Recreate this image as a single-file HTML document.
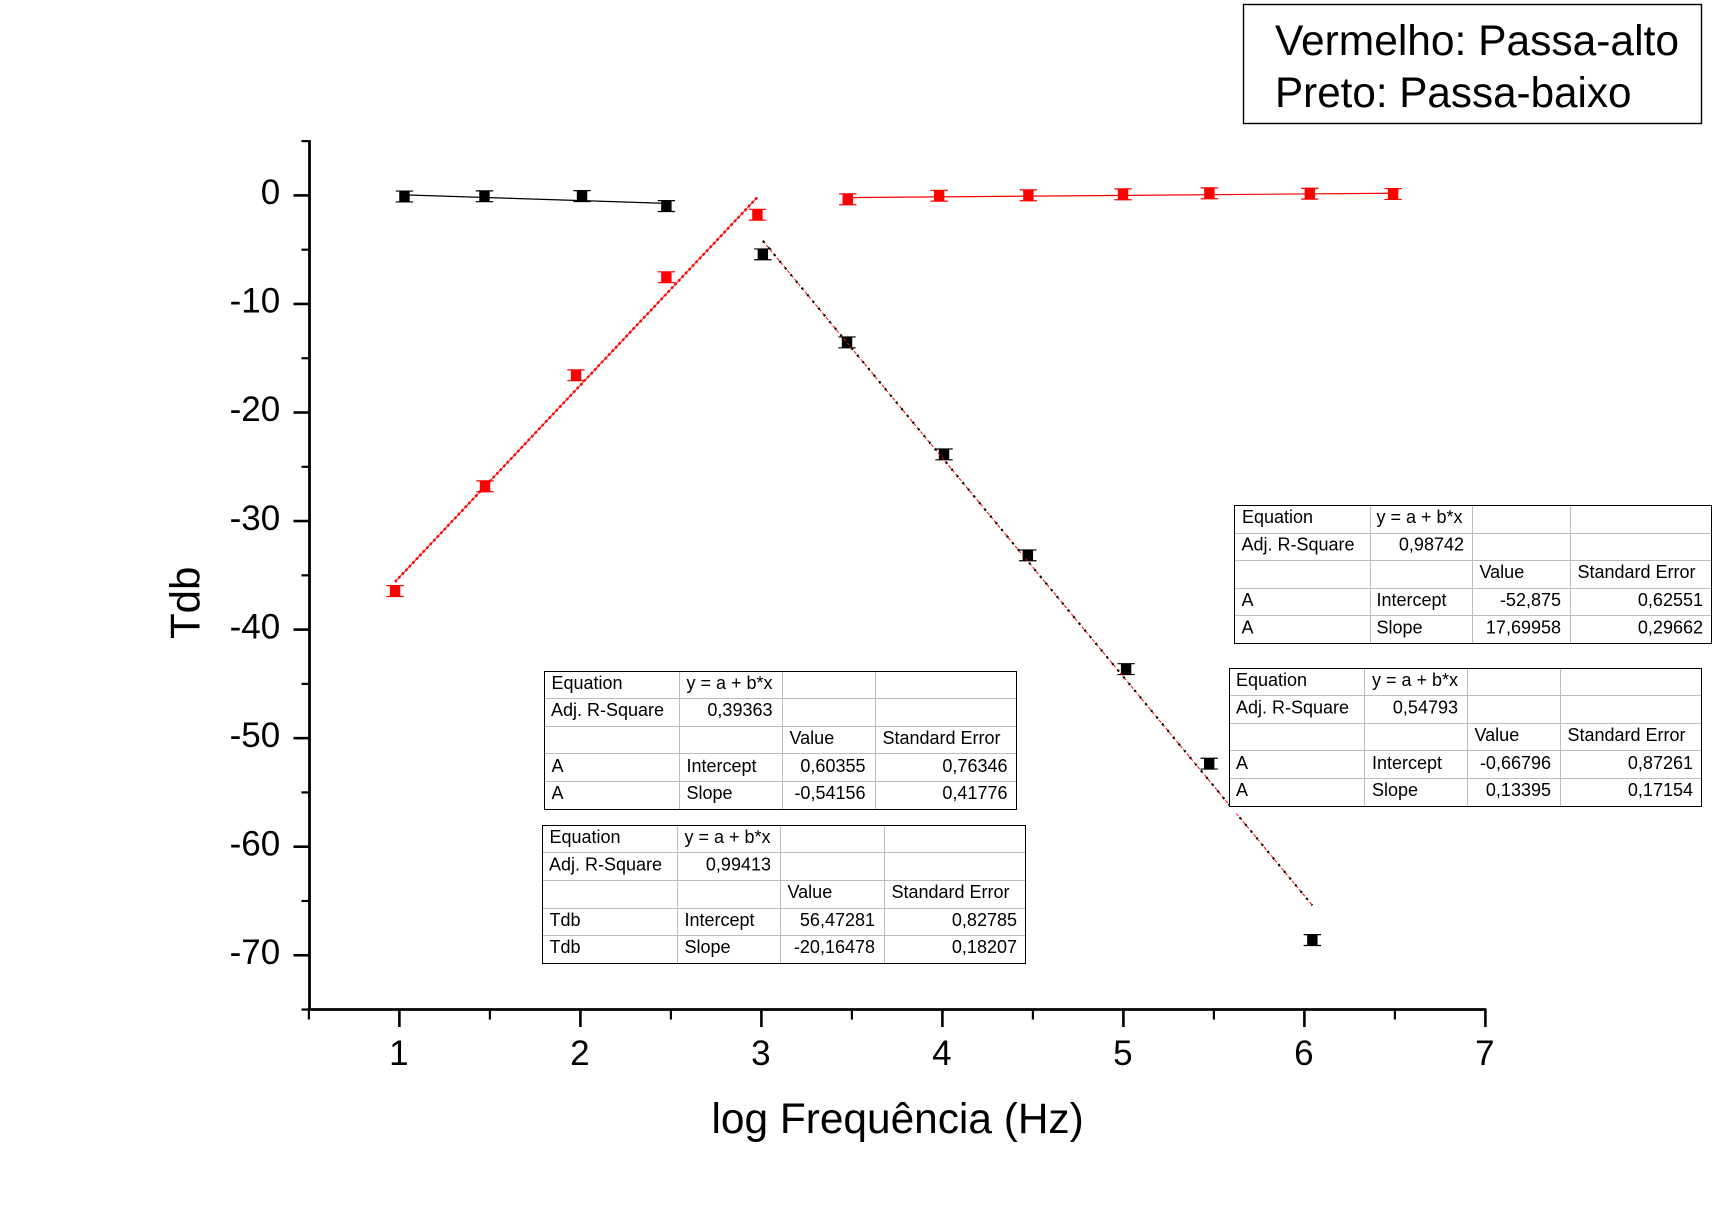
<!DOCTYPE html>
<html lang="pt">
<head>
<meta charset="utf-8">
<title>Tdb vs log Frequência</title>
<style>
html,body{margin:0;padding:0;background:#fff;}
svg{display:block;font-family:"Liberation Sans",Arial,sans-serif;}
.t{font-size:18px;fill:#000;}
.r{text-anchor:end;}
.grid line{stroke:#bdbdbd;stroke-width:1;shape-rendering:crispEdges;}
.box{fill:none;stroke:#000;stroke-width:1;shape-rendering:crispEdges;}
.mask{fill:#fff;stroke:none;}
</style>
</head>
<body>
<svg id="chart" xmlns="http://www.w3.org/2000/svg" width="1725" height="1209" viewBox="0 0 1725 1209">
  <rect width="1725" height="1209" fill="#fff"/>
  <g id="plot"></g>

  <text x="0" y="0" transform="translate(199.5 639) rotate(-90)" font-size="42" fill="#000">Tdb</text>
  <text x="711.5" y="1133" font-size="42.4" fill="#000">log Frequência (Hz)</text>

  <g>
    <rect x="1243.5" y="4.5" width="458" height="119" fill="#fff" stroke="#000" stroke-width="1.4"/>
    <text x="1275" y="55" font-size="42.5" fill="#000">Vermelho: Passa-alto</text>
    <text x="1275" y="107" font-size="42.2" fill="#000">Preto: Passa-baixo</text>
  </g>

  <!-- Fit table: black low-frequency series -->
  <g transform="translate(544.5 671.5)">
    <rect class="mask" x="0" y="0" width="472" height="145"/>
    <g class="grid">
      <line x1="135" y1="0" x2="135" y2="138"/><line x1="238" y1="0" x2="238" y2="138"/><line x1="331" y1="0" x2="331" y2="138"/>
      <line x1="0" y1="27" x2="472" y2="27"/><line x1="0" y1="55" x2="472" y2="55"/><line x1="0" y1="82" x2="472" y2="82"/><line x1="0" y1="110" x2="472" y2="110"/>
    </g>
    <rect class="box" x="0" y="0" width="472" height="138"/>
    <text class="t" x="7" y="17.5">Equation</text>
    <text class="t" x="142" y="17.5">y = a + b*x</text>
    <text class="t" x="6.5" y="44.5">Adj. R-Square</text>
    <text class="t r" x="228" y="44.5">0,39363</text>
    <text class="t" x="245" y="72.5">Value</text>
    <text class="t" x="338" y="72.5">Standard Error</text>
    <text class="t" x="7" y="100.5">A</text>
    <text class="t" x="142" y="100.5">Intercept</text>
    <text class="t r" x="321" y="100.5">0,60355</text>
    <text class="t r" x="463" y="100.5">0,76346</text>
    <text class="t" x="7" y="127.5">A</text>
    <text class="t" x="142" y="127.5">Slope</text>
    <text class="t r" x="321" y="127.5">-0,54156</text>
    <text class="t r" x="463" y="127.5">0,41776</text>
  </g>

  <!-- Fit table: black falling series -->
  <g transform="translate(542.5 825.5)">
    <rect class="mask" x="0" y="0" width="483" height="145"/>
    <g class="grid">
      <line x1="135" y1="0" x2="135" y2="138"/><line x1="238" y1="0" x2="238" y2="138"/><line x1="342" y1="0" x2="342" y2="138"/>
      <line x1="0" y1="27" x2="483" y2="27"/><line x1="0" y1="55" x2="483" y2="55"/><line x1="0" y1="83" x2="483" y2="83"/><line x1="0" y1="110" x2="483" y2="110"/>
    </g>
    <rect class="box" x="0" y="0" width="483" height="138"/>
    <text class="t" x="7" y="17.5">Equation</text>
    <text class="t" x="142" y="17.5">y = a + b*x</text>
    <text class="t" x="6.5" y="45">Adj. R-Square</text>
    <text class="t r" x="228.5" y="45">0,99413</text>
    <text class="t" x="245" y="72.5">Value</text>
    <text class="t" x="349" y="72.5">Standard Error</text>
    <text class="t" x="7" y="100.5">Tdb</text>
    <text class="t" x="142" y="100.5">Intercept</text>
    <text class="t r" x="332.5" y="100.5">56,47281</text>
    <text class="t r" x="474.5" y="100.5">0,82785</text>
    <text class="t" x="7" y="127.5">Tdb</text>
    <text class="t" x="142" y="127.5">Slope</text>
    <text class="t r" x="332.5" y="127.5">-20,16478</text>
    <text class="t r" x="474.5" y="127.5">0,18207</text>
  </g>

  <!-- Fit table: red rising series -->
  <g transform="translate(1234.5 505.5)">
    <rect class="mask" x="0" y="0" width="477" height="145"/>
    <g class="grid">
      <line x1="136" y1="0" x2="136" y2="138"/><line x1="238" y1="0" x2="238" y2="138"/><line x1="336" y1="0" x2="336" y2="138"/>
      <line x1="0" y1="28" x2="477" y2="28"/><line x1="0" y1="55" x2="477" y2="55"/><line x1="0" y1="83" x2="477" y2="83"/><line x1="0" y1="110" x2="477" y2="110"/>
    </g>
    <rect class="box" x="0" y="0" width="477" height="138"/>
    <text class="t" x="7.5" y="17.5">Equation</text>
    <text class="t" x="142" y="17.5">y = a + b*x</text>
    <text class="t" x="7" y="45">Adj. R-Square</text>
    <text class="t r" x="229.5" y="45">0,98742</text>
    <text class="t" x="245" y="72.5">Value</text>
    <text class="t" x="343" y="72.5">Standard Error</text>
    <text class="t" x="7" y="100.5">A</text>
    <text class="t" x="142" y="100.5">Intercept</text>
    <text class="t r" x="326.5" y="100.5">-52,875</text>
    <text class="t r" x="468.5" y="100.5">0,62551</text>
    <text class="t" x="7" y="128">A</text>
    <text class="t" x="142" y="128">Slope</text>
    <text class="t r" x="326.5" y="128">17,69958</text>
    <text class="t r" x="468.5" y="128">0,29662</text>
  </g>

  <!-- Fit table: red flat series -->
  <g transform="translate(1229.5 668.5)">
    <rect class="mask" x="0" y="0" width="472" height="145"/>
    <g class="grid">
      <line x1="135" y1="0" x2="135" y2="138"/><line x1="238" y1="0" x2="238" y2="138"/><line x1="331" y1="0" x2="331" y2="138"/>
      <line x1="0" y1="27" x2="472" y2="27"/><line x1="0" y1="55" x2="472" y2="55"/><line x1="0" y1="82" x2="472" y2="82"/><line x1="0" y1="110" x2="472" y2="110"/>
    </g>
    <rect class="box" x="0" y="0" width="472" height="138"/>
    <text class="t" x="6.5" y="17.5">Equation</text>
    <text class="t" x="142.5" y="17.5">y = a + b*x</text>
    <text class="t" x="6.5" y="45">Adj. R-Square</text>
    <text class="t r" x="228.5" y="45">0,54793</text>
    <text class="t" x="245" y="72.5">Value</text>
    <text class="t" x="338" y="72.5">Standard Error</text>
    <text class="t" x="6.5" y="100.5">A</text>
    <text class="t" x="142.5" y="100.5">Intercept</text>
    <text class="t r" x="321.5" y="100.5">-0,66796</text>
    <text class="t r" x="463.5" y="100.5">0,87261</text>
    <text class="t" x="6.5" y="127.5">A</text>
    <text class="t" x="142.5" y="127.5">Slope</text>
    <text class="t r" x="321.5" y="127.5">0,13395</text>
    <text class="t r" x="463.5" y="127.5">0,17154</text>
  </g>
</svg>

<script>
// Tick values and labels
const xMajorTicks = [1, 2, 3, 4, 5, 6, 7];
const xMinorTicks = [0.5, 1.5, 2.5, 3.5, 4.5, 5.5, 6.5];
const yMajorTicks = [0, -10, -20, -30, -40, -50, -60, -70];
const yMinorTicks = [5, -5, -15, -25, -35, -45, -55, -65, -75];
const xTickLabels = ["1", "2", "3", "4", "5", "6", "7"];
const yTickLabels = ["0", "-10", "-20", "-30", "-40", "-50", "-60", "-70"];

// Black series (low-pass)
const blackFlatX = [1.028, 1.47, 2.009, 2.475];
const blackFlatY = [-0.10, -0.08, -0.06, -0.98];
const blackSlopeX = [3.008, 3.473, 4.009, 4.472, 5.015, 5.474, 6.044];
const blackSlopeY = [-5.43, -13.54, -23.86, -33.16, -43.64, -52.35, -68.6];

// Red series (high-pass)
const redRiseX = [0.976, 1.473, 1.976, 2.475, 2.978];
const redRiseY = [-36.45, -26.8, -16.57, -7.54, -1.78];
const redFlatX = [3.477, 3.982, 4.475, 4.998, 5.475, 6.03, 6.49];
const redFlatY = [-0.36, -0.03, 0.01, 0.10, 0.19, 0.16, 0.13];

// Error magnitude and linear-fit coefficients [intercept, slope]
const errorBar = [0.5];
const blackFlatFit = [0.60355, -0.54156];
const blackSlopeFit = [56.47281, -20.16478];
const redRiseFit = [-52.875, 17.69958];
const redFlatFit = [-0.66796, 0.13395];

const SVG_NS = "http://www.w3.org/2000/svg";
const plot = document.getElementById("plot");

function xScale(v) { return 399.4 + (v - 1) * 181; }
function yScale(v) { return 195.4 - v * 10.855; }

function makeLine(parent, x1, y1, x2, y2, color, width) {
  const el = document.createElementNS(SVG_NS, "line");
  el.setAttribute("x1", x1);
  el.setAttribute("y1", y1);
  el.setAttribute("x2", x2);
  el.setAttribute("y2", y2);
  el.setAttribute("stroke", color);
  el.setAttribute("stroke-width", width);
  parent.appendChild(el);
  return el;
}

function makeGroup(parent) {
  const g = document.createElementNS(SVG_NS, "g");
  parent.appendChild(g);
  return g;
}

// Axes
const axes = makeGroup(plot);



const yAxisLine = makeLine(axes, 309.5, yScale(5) - 1, 309.5, yScale(-75) + 1, "#000", 2.8);



const xAxisLine = makeLine(axes, xScale(0.5) - 1, yScale(-75), xScale(7) + 1, yScale(-75), "#000", 2.8);



xMajorTicks.forEach(function (v, i) {
  const tick = makeLine(axes, xScale(v), yScale(-75), xScale(v), yScale(-75) + 17.5, "#000", 2.6);
  
  
  const label = document.createElementNS(SVG_NS, "text");
  label.setAttribute("x", xScale(v) - 0.5);
  label.setAttribute("y", 1065);
  label.setAttribute("font-size", "35");
  label.setAttribute("text-anchor", "middle");
  label.setAttribute("fill", "#000");
  label.textContent = xTickLabels[i];
  
  
  axes.appendChild(label);
});

xMinorTicks.forEach(function (v) {
  const tick = makeLine(axes, xScale(v), yScale(-75), xScale(v), yScale(-75) + 10, "#000", 2.2);
  
  
});

yMajorTicks.forEach(function (v, i) {
  const tick = makeLine(axes, 309.5, yScale(v), 293.5, yScale(v), "#000", 2.6);
  
  
  const label = document.createElementNS(SVG_NS, "text");
  label.setAttribute("x", 280.2);
  label.setAttribute("y", yScale(v) + 8.7);
  label.setAttribute("font-size", "35");
  label.setAttribute("text-anchor", "end");
  label.setAttribute("fill", "#000");
  label.textContent = yTickLabels[i];
  
  
  axes.appendChild(label);
});

yMinorTicks.forEach(function (v) {
  const tick = makeLine(axes, 309.5, yScale(v), 301.5, yScale(v), "#000", 2.2);
  
  
});

// Points with error bars
function drawPoints(xs, ys, color, seriesGroup) {
  xs.forEach(function (xv, i) {
    const cx = xScale(xv);
    const cy = yScale(ys[i]);
    const top = yScale(ys[i] + errorBar[0]);
    const bottom = yScale(ys[i] - errorBar[0]);
    makeLine(seriesGroup, cx, top, cx, bottom, color, 1);
    makeLine(seriesGroup, cx - 8.7, top, cx + 8.7, top, color, 1.2);
    makeLine(seriesGroup, cx - 8.7, bottom, cx + 8.7, bottom, color, 1.2);
    const box = document.createElementNS(SVG_NS, "rect");
    box.setAttribute("x", cx - 5.2);
    box.setAttribute("y", cy - 5.3);
    box.setAttribute("width", 10.4);
    box.setAttribute("height", 10.6);
    box.setAttribute("fill", color);
    
    
    seriesGroup.appendChild(box);
  });
}

function fitValue(fit, x) { return fit[0] + fit[1] * x; }

function fitEnds(fit, xs) {
  const a = xs[0];
  const b = xs[xs.length - 1];
  return [xScale(a), yScale(fitValue(fit, a)), xScale(b), yScale(fitValue(fit, b))];
}

const blackFlatGroup = makeGroup(plot);


drawPoints(blackFlatX, blackFlatY, "#000", blackFlatGroup);
const bfe = fitEnds(blackFlatFit, blackFlatX);
const blackFlatLine = makeLine(blackFlatGroup, bfe[0], bfe[1], bfe[2], bfe[3], "#000", 1.2);



const redFlatGroup = makeGroup(plot);


drawPoints(redFlatX, redFlatY, "#f00", redFlatGroup);
const rfe = fitEnds(redFlatFit, redFlatX);
const redFlatLine = makeLine(redFlatGroup, rfe[0], rfe[1], rfe[2], rfe[3], "#f00", 1.2);



const redRiseGroup = makeGroup(plot);


drawPoints(redRiseX, redRiseY, "#f00", redRiseGroup);
const rre = fitEnds(redRiseFit, redRiseX);
const redRiseLine = makeLine(redRiseGroup, rre[0], rre[1], rre[2], rre[3], "#f00", 0.9);


const redRiseDots = makeLine(redRiseGroup, rre[0], rre[1], rre[2], rre[3], "#f00", 2.5);
redRiseDots.setAttribute("stroke-dasharray", "2.4 2.7");



const blackSlopeGroup = makeGroup(plot);


drawPoints(blackSlopeX, blackSlopeY, "#000", blackSlopeGroup);
const bse = fitEnds(blackSlopeFit, blackSlopeX);
const blackSlopeRed = makeLine(blackSlopeGroup, bse[0], bse[1], bse[2], bse[3], "#f00", 1);
blackSlopeRed.setAttribute("stroke-dasharray", "3.5 2");


const blackSlopeDots = makeLine(blackSlopeGroup, bse[0], bse[1], bse[2], bse[3], "#000", 2.1);
blackSlopeDots.setAttribute("stroke-dasharray", "2.1 6.6");


</script>
</body>
</html>
